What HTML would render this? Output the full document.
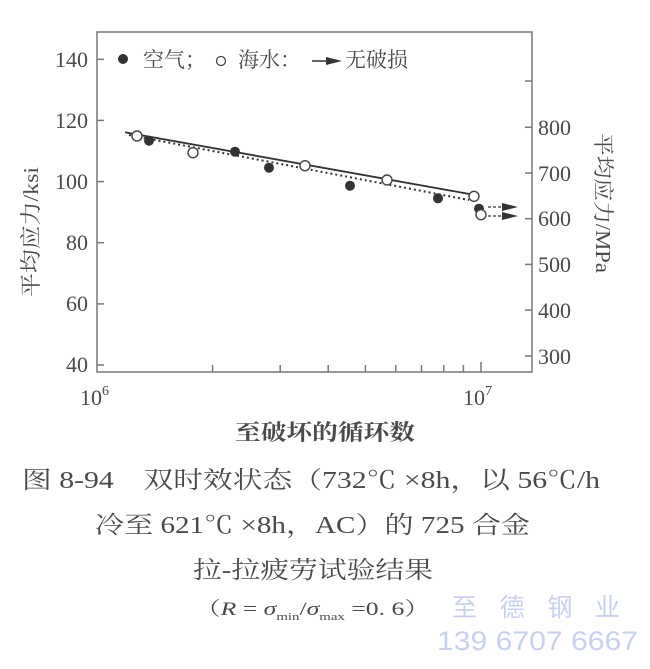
<!DOCTYPE html>
<html><head><meta charset="utf-8"><style>
body{margin:0;background:#fff;}
svg{display:block;}
text{font-family:"Liberation Serif","Noto Serif CJK SC",serif;fill:#4a4a4a;}
</style></head><body>
<svg width="650" height="669" viewBox="0 0 650 669">
<rect width="650" height="669" fill="#fff"/>
<g stroke="#777" stroke-width="1.5" fill="none">
<rect x="97" y="32" width="435" height="340"/>
<line x1="97" y1="59.3" x2="104" y2="59.3"/><line x1="97" y1="120.4" x2="104" y2="120.4"/>
<line x1="97" y1="181.6" x2="104" y2="181.6"/><line x1="97" y1="242.7" x2="104" y2="242.7"/>
<line x1="97" y1="303.9" x2="104" y2="303.9"/><line x1="97" y1="365" x2="104" y2="365"/>
<line x1="532" y1="81" x2="525" y2="81"/><line x1="532" y1="127.3" x2="525" y2="127.3"/>
<line x1="532" y1="173" x2="525" y2="173"/><line x1="532" y1="218.7" x2="525" y2="218.7"/>
<line x1="532" y1="264.4" x2="525" y2="264.4"/><line x1="532" y1="310.1" x2="525" y2="310.1"/>
<line x1="532" y1="356" x2="525" y2="356"/>
<line x1="212.6" y1="372" x2="212.6" y2="365"/><line x1="280.2" y1="372" x2="280.2" y2="365"/>
<line x1="328.2" y1="372" x2="328.2" y2="365"/><line x1="365.4" y1="372" x2="365.4" y2="365"/>
<line x1="395.8" y1="372" x2="395.8" y2="365"/><line x1="421.5" y1="372" x2="421.5" y2="365"/>
<line x1="443.8" y1="372" x2="443.8" y2="365"/><line x1="463.4" y1="372" x2="463.4" y2="365"/>
<line x1="481" y1="372" x2="481" y2="362"/>
</g>
<g font-size="22" text-anchor="end">
<text x="88" y="67">140</text><text x="88" y="128">120</text><text x="88" y="189">100</text>
<text x="88" y="250">80</text><text x="88" y="311">60</text><text x="88" y="372">40</text>
</g>
<g font-size="22" text-anchor="start">
<text x="538" y="135">800</text><text x="538" y="181">700</text><text x="538" y="226">600</text>
<text x="538" y="272">500</text><text x="538" y="318">400</text><text x="538" y="364">300</text>
</g>
<text x="80" y="405" font-size="22">10<tspan font-size="14" dy="-10">6</tspan></text>
<text x="463" y="405" font-size="22">10<tspan font-size="14" dy="-10">7</tspan></text>
<text x="235" y="440" font-size="22" textLength="180" lengthAdjust="spacingAndGlyphs" font-weight="bold">至破坏的循环数</text>
<text transform="translate(38,232) rotate(-90)" font-size="21" text-anchor="middle" textLength="130" lengthAdjust="spacingAndGlyphs">平均应力/ksi</text>
<text transform="translate(596,203) rotate(90)" font-size="21" text-anchor="middle" textLength="140" lengthAdjust="spacingAndGlyphs">平均应力/MPa</text>
<circle cx="123" cy="59" r="5" fill="#333"/>
<text x="143" y="67" font-size="21">空气；</text>
<circle cx="221" cy="61" r="4.5" fill="none" stroke="#444" stroke-width="1.3"/>
<text x="238" y="67" font-size="21">海水：</text>
<line x1="312" y1="61" x2="330" y2="61" stroke="#333" stroke-width="1.5"/>
<polygon points="326,57 342,61 326,65" fill="#333"/>
<text x="345" y="67" font-size="21">无破损</text>
<line x1="125" y1="132.3" x2="475" y2="195" stroke="#333" stroke-width="1.8"/>
<line x1="129" y1="135" x2="469" y2="200" stroke="#333" stroke-width="2" stroke-dasharray="2,3"/>
<g fill="#333">
<circle cx="149" cy="140.7" r="5"/><circle cx="235" cy="151.7" r="5"/><circle cx="269" cy="167.7" r="5"/>
<circle cx="350" cy="185.7" r="5"/><circle cx="438" cy="198.3" r="5"/><circle cx="479" cy="208.7" r="5"/>
</g>
<g fill="#fff" stroke="#444" stroke-width="1.4">
<circle cx="137" cy="136" r="5"/><circle cx="193" cy="152.7" r="5"/><circle cx="305" cy="165.7" r="5"/>
<circle cx="387" cy="180" r="5"/><circle cx="474" cy="196.3" r="5"/><circle cx="481" cy="214.7" r="5"/>
</g>
<g stroke="#333" stroke-width="1.3">
<line x1="488" y1="207" x2="506" y2="207" stroke-dasharray="3,2"/>
<line x1="488" y1="216" x2="506" y2="216" stroke-dasharray="3,2"/>
</g>
<polygon points="502,203 518,207 502,211" fill="#333"/>
<polygon points="502,212 518,216 502,220" fill="#333"/>
<g font-size="24">
<text x="22" y="488" textLength="578" lengthAdjust="spacingAndGlyphs">图 8-94　双时效状态（732℃ ×8h，以 56℃/h</text>
<text x="95" y="533" textLength="435" lengthAdjust="spacingAndGlyphs">冷至 621℃ ×8h，AC）的 725 合金</text>
<text x="193" y="578" textLength="240" lengthAdjust="spacingAndGlyphs">拉-拉疲劳试验结果</text>
</g>
<text x="195" y="615" font-size="19" textLength="235" lengthAdjust="spacingAndGlyphs">（<tspan font-style="italic">R</tspan> = <tspan font-style="italic">σ</tspan><tspan font-size="11" dy="5">min</tspan><tspan dy="-5">/</tspan><tspan font-style="italic">σ</tspan><tspan font-size="11" dy="5">max</tspan><tspan dy="-5"> =0. 6）</tspan></text>
<text x="452" y="616" font-size="25" textLength="168" lengthAdjust="spacing" style="fill:#c6d1f0;font-family:'Liberation Sans','Noto Sans CJK SC',sans-serif">至德钢业</text>
<text x="437" y="650" font-size="27" textLength="201" lengthAdjust="spacingAndGlyphs" style="fill:#c6d1f0;font-family:'Liberation Sans',sans-serif">139 6707 6667</text>
</svg>
</body></html>
